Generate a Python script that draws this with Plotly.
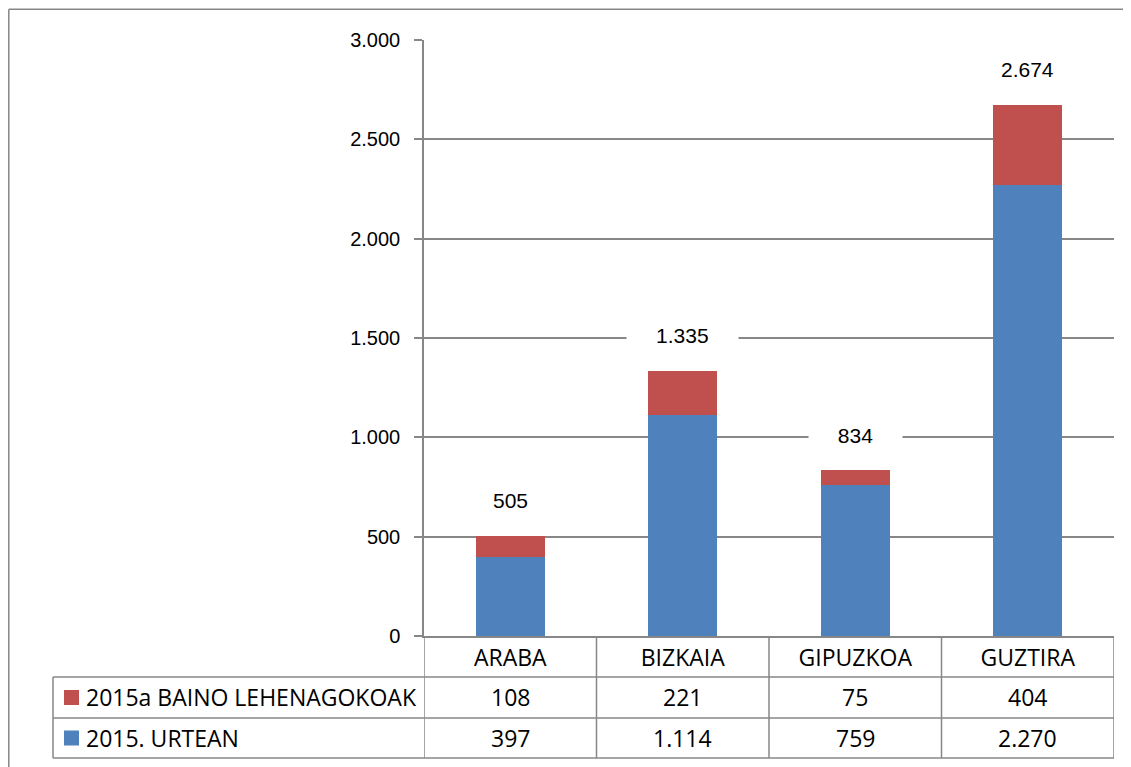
import plotly.graph_objects as go

# data
categories = ['ARABA', 'BIZKAIA', 'GIPUZKOA', 'GUZTIRA']
urtean_2015 = [397, 1114, 759, 2270]
lehenagokoak = [108, 221, 75, 404]
series_names = ['2015a BAINO LEHENAGOKOAK', '2015. URTEAN']
y_ticks = [0, 500, 1000, 1500, 2000, 2500, 3000]

BLUE = '#4F81BD'
RED = '#C0504D'
GRID = '#878787'

W, H = 1131, 767
L, R, T, B = 416, 1106, 32, 628   # plot area in figure pixels


def px_x(px):
    return (px - L) / (R - L)


def px_y(py):
    return (B - py) / (B - T)


def fmt(v):
    return f"{v:,}".replace(',', '.')


totals = [a + b for a, b in zip(urtean_2015, lehenagokoak)]

fig = go.Figure()
fig.add_trace(go.Bar(x=categories, y=urtean_2015, marker_color=BLUE,
                     marker_line_width=0, name=series_names[1], width=0.4))
fig.add_trace(go.Bar(x=categories, y=lehenagokoak, marker_color=RED,
                     marker_line_width=0, name=series_names[0], width=0.4))

# total labels above stacks (white box hides the gridlines behind them)
for c, t in zip(categories, totals):
    txt = fmt(t)
    box_w = 11.7 * sum(ch.isdigit() for ch in txt) + 6 * txt.count('.') + 54
    fig.add_annotation(x=c, y=t, text=txt, showarrow=False, yshift=35,
                       xanchor='center', yanchor='middle',
                       font=dict(family='Liberation Sans, Arial', size=21, color='black'),
                       bgcolor='white', borderpad=2, width=box_w)

shapes = []
line = dict(color=GRID, width=1.5)
rows = [628, 669, 710, 750]
# table vertical lines at category boundaries
for i in range(len(categories) + 1):
    shapes.append(dict(type='line', xref='x', yref='paper', x0=i - 0.5, x1=i - 0.5,
                       y0=px_y(rows[0]), y1=px_y(rows[-1]), line=line))
# table horizontal lines
for r in rows[1:]:
    shapes.append(dict(type='line', xref='paper', yref='paper', x0=px_x(45), x1=1,
                       y0=px_y(r), y1=px_y(r), line=line))
shapes.append(dict(type='line', xref='paper', yref='paper', x0=px_x(45), x1=px_x(45),
                   y0=px_y(rows[1]), y1=px_y(rows[-1]), line=line))
# outer chart border (left and top edges only are visible)
shapes.append(dict(type='line', xref='paper', yref='paper', x0=px_x(0.8), x1=px_x(1200),
                   y0=px_y(1.2), y1=px_y(1.2), line=dict(color='#878787', width=1.5)))
shapes.append(dict(type='line', xref='paper', yref='paper', x0=px_x(0.8), x1=px_x(0.8),
                   y0=px_y(1.2), y1=px_y(800), line=dict(color='#878787', width=1.5)))

table_font = dict(family='Open Sans, Noto Sans', size=23, color='black')
table_rows = [(series_names[0], RED, lehenagokoak), (series_names[1], BLUE, urtean_2015)]
for k, (name, col, vals) in enumerate(table_rows):
    y0, y1 = rows[k + 1], rows[k + 2]
    yc = px_y((y0 + y1) / 2)
    shapes.append(dict(type='rect', xref='paper', yref='paper', x0=px_x(56), x1=px_x(71),
                       y0=yc - 7.5 / (B - T), y1=yc + 7.5 / (B - T),
                       fillcolor=col, line=dict(width=0)))
    fig.add_annotation(xref='paper', yref='paper', x=px_x(76), y=yc, text=name,
                       xanchor='left', yanchor='middle', showarrow=False, font=table_font)
    for c, v in zip(categories, vals):
        fig.add_annotation(x=c, xref='x', yref='paper', y=yc, text=fmt(v),
                           xanchor='center', yanchor='middle',
                           showarrow=False, font=table_font)

fig.update_layout(
    barmode='stack',
    width=W, height=H,
    margin=dict(l=L, r=W - R, t=T, b=H - B, pad=0),
    paper_bgcolor='white', plot_bgcolor='white',
    showlegend=False,
    separators=',.',
    shapes=shapes,
    xaxis=dict(range=[-0.5, 3.5], showgrid=False, showline=True, linecolor=GRID,
               linewidth=1.5, ticks='', ticklabelstandoff=1,
               tickfont=table_font),
    yaxis=dict(range=[0, 3000], tickvals=y_ticks, showgrid=True, gridcolor=GRID,
               gridwidth=1.5, showline=True, linecolor=GRID, linewidth=1.5,
               ticks='outside', ticklen=8, tickcolor=GRID, tickwidth=1.5,
               tickformat=',d', zeroline=False, ticklabelstandoff=10,
               tickfont=dict(family='Liberation Sans, Arial', size=20, color='black')),
)

fig.write_html("out.html")
